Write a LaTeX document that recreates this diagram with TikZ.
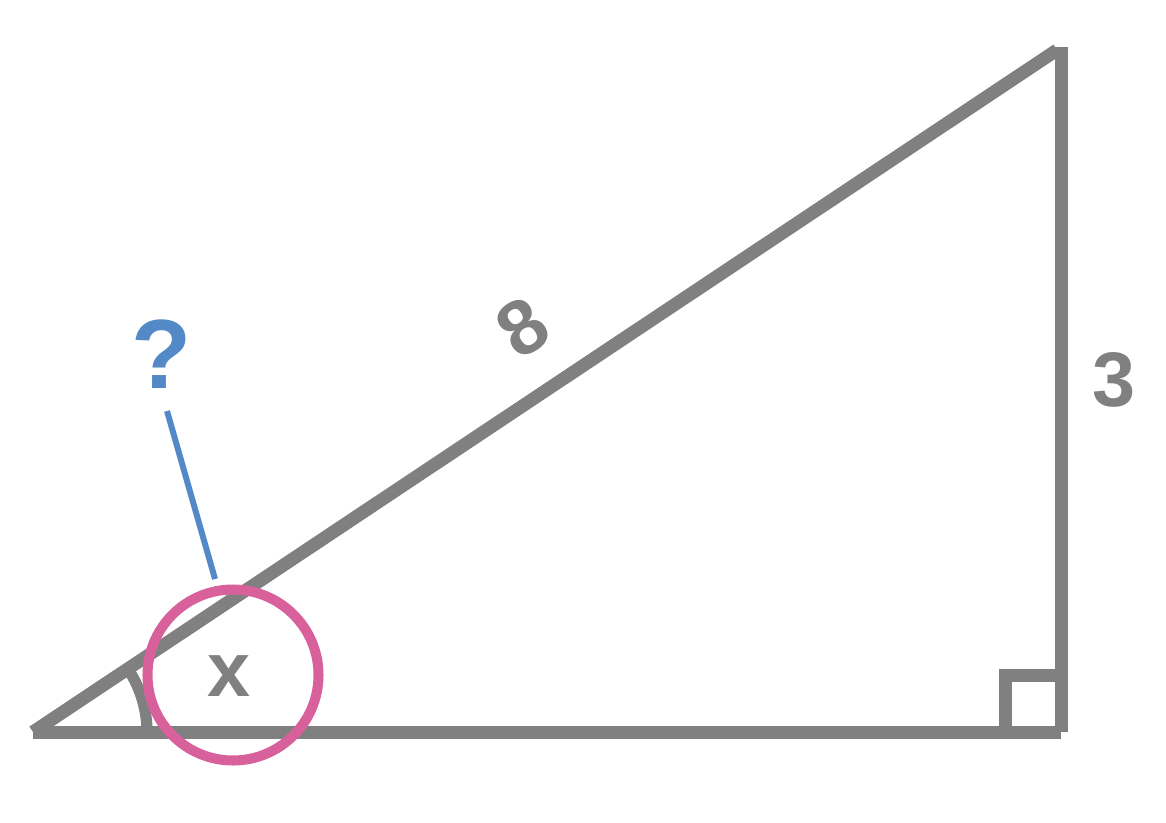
\documentclass[tikz,border=0pt]{standalone}
\usepackage{fontspec}
\setmainfont{Liberation Sans}
\usepackage{xcolor}
\definecolor{sidegray}{RGB}{128,128,128}
\definecolor{markpink}{RGB}{217,97,155}
\definecolor{askblue}{RGB}{84,137,199}

\begin{document}
\begin{tikzpicture}[
  side/.style={line width=3.7pt, draw=sidegray, line cap=butt},
  lbl/.style={text=sidegray, font=\fontsize{22}{26}\selectfont\bfseries, inner sep=0pt}]
  \useasboundingbox (0,0) rectangle (11.66,8.22);
  \coordinate (A) at (0.33,0.90);
  \coordinate (B) at (10.61,0.90);
  \coordinate (C) at (10.61,7.75);
  \coordinate (Ct) at (10.57,7.72);
  \draw[side] (A) -- (B);
  \draw[side] (B) -- (C);
  \draw[side] (A) -- (Ct);
  \draw[side] (10.05,0.90) -- (10.05,1.47) -- (10.61,1.47);
  \draw[line width=3.2pt, draw=sidegray] ([shift={(0:1.14)}]A) arc[start angle=0, end angle=33.6, radius=1.14];
  \node[circle, draw=markpink, line width=2.85pt, minimum size=17.1cm/10, inner sep=0pt] (circ) at (2.33,1.47) {};
  \node[lbl] (x) at (2.29,1.46) {x};
  \node[lbl, rotate=33.6] (hyp) at (5.23,4.95) {8};
  \node[lbl] (opp) at (11.14,4.42) {3};
  \node[lbl, text=askblue, font=\fontsize{28}{32}\selectfont\bfseries] (ask) at (1.62,4.68) {?};
  \coordinate (askfoot) at (1.67,4.11);
  \coordinate (circtop) at (2.15,2.43);
  \draw[askblue, line width=1.7pt] (askfoot) -- (circtop);
\end{tikzpicture}
\end{document}
